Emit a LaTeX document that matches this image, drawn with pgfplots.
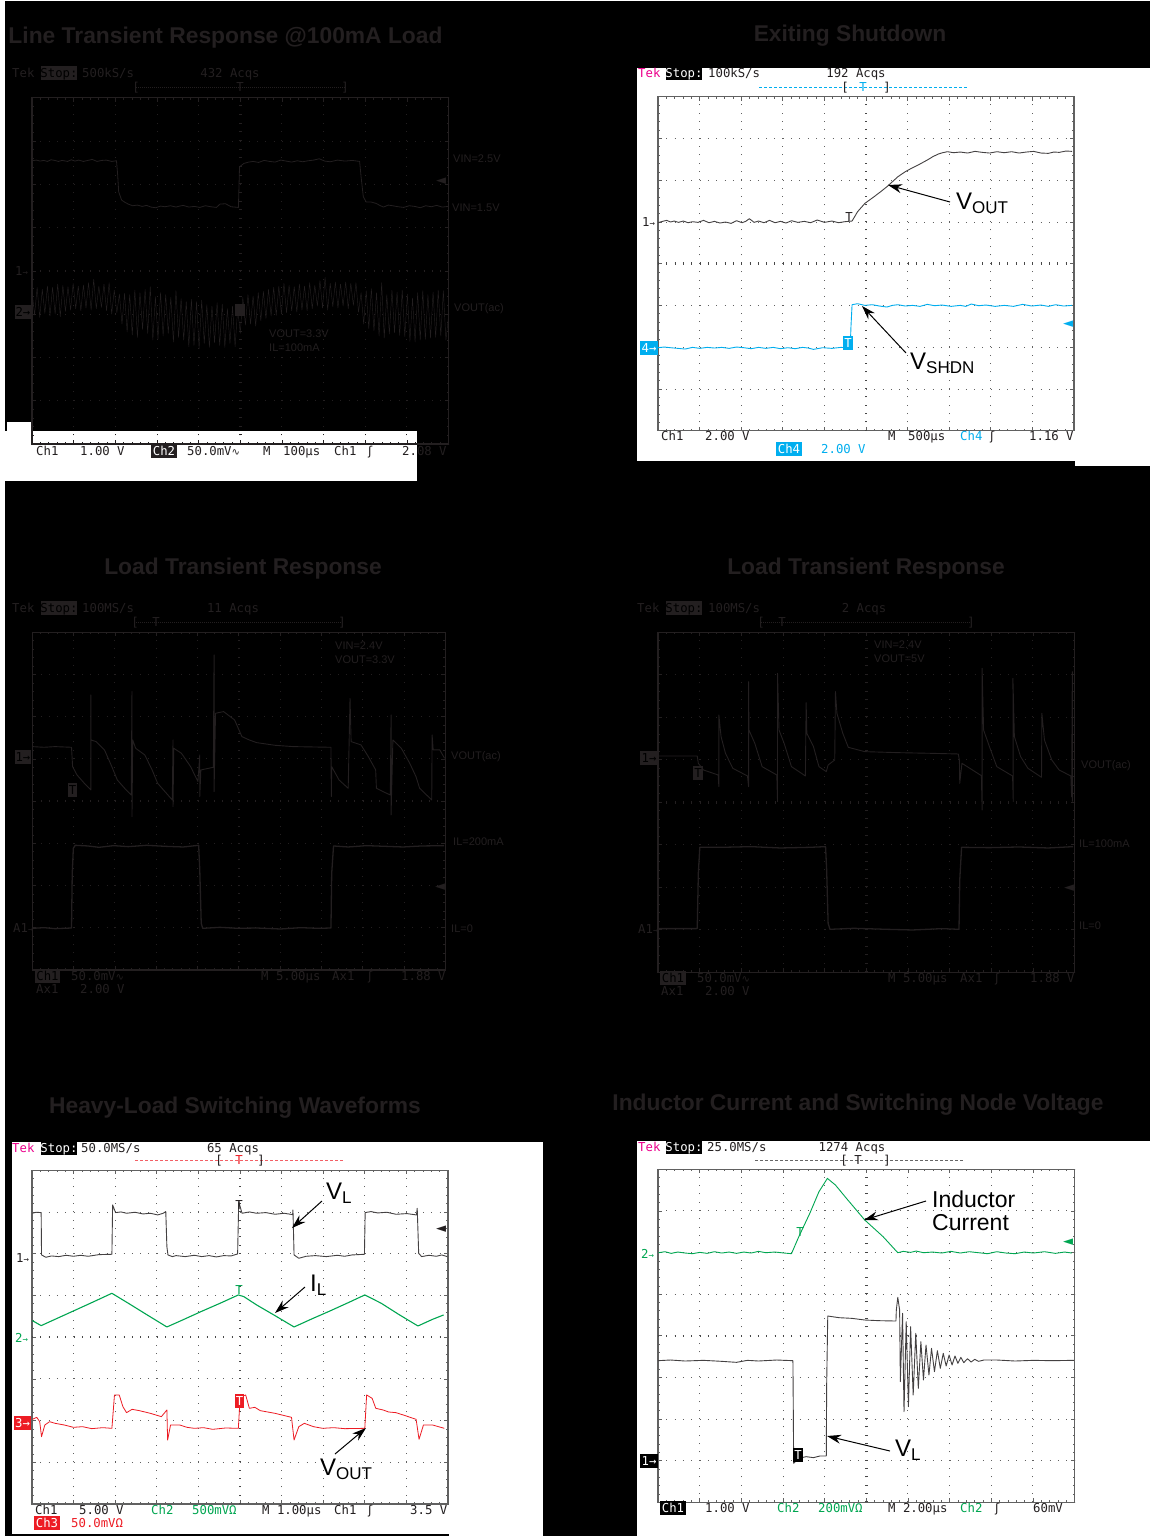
\documentclass[border=0pt]{standalone}
\usepackage{fontspec}
\usepackage{pgfplots}
\pgfplotsset{compat=1.18}
\usetikzlibrary{arrows.meta}
\setmainfont{Liberation Sans}
\newfontfamily\mono{DejaVu Sans Mono}
\newfontfamily\djv{DejaVu Sans}
\definecolor{ink}{HTML}{231F20}
\definecolor{cy}{HTML}{00AEEF}
\definecolor{gr}{HTML}{00A651}
\definecolor{rd}{HTML}{ED1C24}
\definecolor{mg}{HTML}{EC008C}
\newcommand{\monof}{\mono\fontsize{12.3}{14}\selectfont}
% scope text: x, y-centre, colour, text
\newcommand{\TX}[4]{\node[anchor=base west,inner sep=0pt,text=#3,font=\monof,yshift=-4.4pt] at (#1pt,-#2pt) {#4};}
\newcommand{\TC}[4]{\node[anchor=base,inner sep=0pt,text=#3,font=\monof,yshift=-4.4pt] at (#1pt,-#2pt) {#4};}
% hand-written labels in the dark panels
\newcommand{\LB}[3]{\node[anchor=base west,inner sep=0pt,text=ink,font=\fontsize{11}{13}\selectfont,yshift=-4pt] at (#1pt,-#2pt) {#3};}
% box: x0,x1,yc,fill,textcolour,text
\newcommand{\BX}[6]{\fill[#4] (#1pt,-#3pt+7pt) rectangle (#2pt,-#3pt-7pt);
 \node[inner sep=0pt,anchor=base,text=#5,font=\monof,yshift=-4.4pt] at ({(#1+#2)/2*1pt},-#3pt) {#6};}
\newcommand{\TT}[3]{\node[anchor=center,inner sep=0pt,text=ink,yshift=-3pt,font=\bfseries\fontsize{22.8}{27}\selectfont] at (#1pt,-#2pt) {#3};}
\newcommand{\MK}[3]{\node[inner sep=0pt,text=#3,font=\djv\fontsize{13}{13}\selectfont] at (#1pt,-#2pt) {◄};}
\newcommand{\SL}{{\djv ʃ}}
\newcommand{\SW}{{\djv\fontsize{10}{10}\selectfont ∿}}
\newcommand{\VS}[4]{\node[anchor=base west,inner sep=0pt,text=black] at (#1pt,-#2pt) {\fontsize{24}{24}\selectfont #3\raisebox{-4pt}{\fontsize{17}{17}\selectfont #4}};}
\newcommand{\AR}[4]{\draw[black,line width=1pt,-{Stealth[length=14pt,width=9pt]}] (#1pt,-#2pt) -- (#3pt,-#4pt);}
% centre lines of the graticule, with their fifth-of-a-division ticks
\newcommand{\CROSS}[3]{\addplot[#1,line width=2.6pt,dash pattern=on 0.9pt off #2pt] coordinates {(5,0) (5,8)};
 \addplot[#1,line width=2.6pt,dash pattern=on 0.9pt off #3pt] coordinates {(0,4) (10,4)};}
\pgfplotsset{
 scopepanel/.style n args={7}{
  at={(#1pt,-#2pt)},anchor=south west,scale only axis,width=#3pt,height=#4pt,
  xmin=0,xmax=10,ymin=0,ymax=8,xtick={0,...,10},ytick={0,...,8},
  minor x tick num=4,minor y tick num=4,tick align=inside,
  major tick length=4pt,minor tick length=2pt,
  xticklabels={},yticklabels={},
  axis line style={#5,line width=1.1pt},
  tick style={#5,line width=0.7pt},
  grid=major,
  x grid style={#5,line width=0.9pt,dash pattern=on 0.9pt off #6pt},
  y grid style={#5,line width=0.9pt,dash pattern=on 0.9pt off #7pt},
  no markers,
  every axis plot/.append style={line join=round,sharp plot},
 },
 /pgfplots/table/dTL/.style={x expr={(\thisrowno{0}-88)/113.4},y expr={(1332-\thisrowno{1})/129.9},row sep=\\},
 /pgfplots/table/dTR/.style={x expr={(\thisrowno{0}-226)/113.4},y expr={(1292-\thisrowno{1})/125.25},row sep=\\},
 /pgfplots/table/dML/.style={x expr={(\thisrowno{0}-88)/112.7},y expr={(1290-\thisrowno{1})/126.6},row sep=\\},
 /pgfplots/table/dMR/.style={x expr={(\thisrowno{0}-226)/113.6},y expr={(1297-\thisrowno{1})/127.5},row sep=\\},
 /pgfplots/table/dBL/.style={x expr={(\thisrowno{0}-87)/113.5},y expr={(1272-\thisrowno{1})/125.1},row sep=\\},
 /pgfplots/table/dBR/.style={x expr={(\thisrowno{0}-226)/113.6},y expr={(1267-\thisrowno{1})/124.9},row sep=\\},
}
\begin{document}
\begin{tikzpicture}
% page: black ground with the white patches of the original
\fill[black] (0pt,0pt) rectangle (1150pt,-1536pt);
\fill[white] (0pt,0pt) rectangle (1150pt,-1pt);
\fill[white] (0pt,0pt) rectangle (5pt,-1536pt);
\fill[white] (7pt,-422pt) rectangle (31pt,-432pt);
\fill[white] (0pt,-431pt) rectangle (417pt,-481pt);
\fill[white] (637pt,-68pt) rectangle (1150pt,-461pt);
\fill[white] (1075pt,-68pt) rectangle (1150pt,-466pt);
\fill[white] (12pt,-1142pt) rectangle (543pt,-1534pt);
\fill[white] (449pt,-1534pt) rectangle (543pt,-1536pt);
\fill[white] (637pt,-1141pt) rectangle (1150pt,-1536pt);

% ---------- TL ----------
\begin{axis}[scopepanel={32}{444}{416.5}{346.3}{ink}{7.76}{7.43}]
\CROSS{ink}{7.76}{7.43}
\addplot[ink,line width=0.8pt] table[dTL]{88 482\\100 480\\110 483\\120 481\\130 484\\140 479\\150 481\\160 484\\170 481\\185 484\\195 479\\205 483\\215 480\\228 484\\240 481\\252 478\\265 484\\278 481\\290 480\\305 484\\318 482\\321 520\\324 575\\332 600\\340 606\\350 612\\362 617\\375 615\\388 619\\400 616\\412 621\\425 623\\438 618\\450 620\\465 617\\480 621\\490 618\\500 616\\515 621\\530 619\\545 622\\560 617\\575 620\\590 622\\600 612\\615 611\\630 620\\650 622\\653 500\\665 490\\678 486\\690 484\\705 487\\720 481\\735 484\\750 486\\765 480\\780 483\\795 486\\810 482\\825 485\\840 482\\855 480\\870 476\\885 483\\900 485\\920 480\\940 483\\960 481\\980 484\\984 530\\990 590\\998 606\\1012 606\\1025 610\\1035 616\\1045 621\\1058 615\\1070 617\\1085 620\\1100 622\\1115 617\\1130 619\\1145 623\\1160 617\\1175 620\\1190 616\\1205 621\\1222 619\\};
\addplot[ink,line width=0.45pt] table[dTL]{88 870\\95 945\\102 862\\109 952\\116 868\\123 940\\130 858\\137 948\\144 862\\151 942\\158 852\\165 950\\172 856\\179 934\\186 860\\193 930\\200 850\\207 926\\214 858\\221 932\\228 855\\235 924\\242 848\\249 930\\256 838\\263 926\\270 858\\277 922\\284 852\\291 932\\298 848\\305 942\\312 870\\319 938\\326 882\\333 972\\340 880\\347 996\\354 884\\361 1005\\368 870\\375 1012\\382 878\\389 988\\396 868\\403 1000\\410 860\\417 1020\\424 890\\431 1018\\438 878\\445 1008\\452 884\\459 1000\\466 892\\473 1026\\480 872\\487 1012\\494 896\\501 1020\\508 905\\515 1040\\522 898\\529 1036\\536 905\\543 1046\\550 900\\557 1030\\564 914\\571 1042\\578 918\\585 1028\\592 908\\599 1036\\606 912\\613 1042\\620 926\\627 1030\\634 918\\641 1040\\648 925\\655 1000\\662 892\\669 975\\676 884\\683 972\\690 888\\697 978\\704 878\\711 962\\718 874\\725 955\\732 868\\739 948\\746 862\\753 946\\760 858\\767 942\\774 850\\781 938\\788 856\\795 932\\802 860\\809 936\\816 852\\823 930\\830 858\\837 932\\844 848\\851 926\\858 856\\865 918\\872 842\\879 924\\886 832\\893 930\\900 850\\907 920\\914 846\\921 924\\928 852\\935 918\\942 846\\949 926\\956 850\\963 916\\970 848\\977 936\\984 878\\991 972\\998 872\\1005 986\\1012 866\\1019 992\\1026 878\\1033 1008\\1040 848\\1047 1014\\1054 884\\1061 1002\\1068 870\\1075 998\\1082 876\\1089 1006\\1096 870\\1103 1010\\1110 882\\1117 1024\\1124 894\\1131 1026\\1138 878\\1145 1020\\1152 872\\1159 1018\\1166 884\\1173 1014\\1180 876\\1187 1012\\1194 870\\1201 1008\\1208 872\\1215 1020\\1222 950\\};
\end{axis}
\TT{225.5}{35}{Line Transient Response @100mA Load}
\TX{12}{73}{ink}{Tek}\BX{41}{77}{73}{ink}{black}{Stop:}\TX{82}{73}{ink}{500kS/s}\TC{230}{73}{ink}{432 Acqs}
\draw[ink,line width=0.7pt,dash pattern=on 1pt off 1pt] (136pt,-87pt) -- (345pt,-87pt);
\TC{136}{87}{ink}{[}\TC{345}{87}{ink}{]}\TC{240}{87}{ink}{T}
\LB{453}{158}{VIN=2.5V}\LB{452}{207}{VIN=1.5V}\LB{454}{307}{VOUT(ac)}\LB{269}{333}{VOUT=3.3V}\LB{269}{347}{IL=100mA}
\MK{441}{181}{ink}
\TX{15}{271}{ink}{1\fontsize{9}{9}\selectfont→}\BX{15}{31}{312}{ink}{black}{2→}
\fill[ink] (235pt,-304pt) rectangle (245pt,-316pt);
\TX{36}{451}{ink}{Ch1}\TX{80}{451}{ink}{1.00 V}\BX{151}{177}{451}{ink}{white}{Ch2}
\TX{187}{451}{ink}{50.0mV\SW}\TX{263}{451}{ink}{M}\TX{283}{451}{ink}{100µs}\TX{334}{451}{ink}{Ch1}\TX{368}{451}{ink}{\SL}\TX{402}{451}{ink}{2.08 V}

% ---------- TR ----------
\begin{axis}[scopepanel={658}{430.7}{416}{334}{black!62}{7.45}{7.42}]
\CROSS{black!72}{7.45}{7.42}
\addplot[ink!85,line width=0.9pt] table[dTR]{226 668\\238 664\\250 661\\260 666\\270 663\\282 667\\295 663\\308 668\\320 665\\335 667\\350 661\\365 668\\380 664\\395 669\\410 666\\425 670\\440 662\\455 668\\465 664\\475 656\\488 667\\500 663\\515 668\\530 661\\545 668\\560 664\\575 669\\590 662\\607 667\\625 664\\642 668\\660 660\\680 667\\700 663\\718 668\\735 665\\755 663\\770 635\\790 610\\815 590\\833 575\\850 560\\865 545\\880 530\\900 515\\920 503\\940 492\\960 480\\975 470\\990 462\\1002 458\\1015 455\\1032 458\\1050 456\\1070 459\\1090 454\\1110 457\\1130 459\\1150 455\\1170 458\\1190 455\\1210 459\\1230 456\\1250 454\\1270 459\\1290 460\\1305 456\\1320 457\\1338 453\\1355 454\\};
\addplot[cy,line width=0.9pt] table[dTR]{226 1043\\243 1041\\260 1043\\280 1045\\300 1047\\320 1042\\340 1045\\360 1042\\380 1044\\400 1042\\420 1045\\440 1041\\460 1043\\480 1046\\500 1042\\520 1045\\540 1042\\560 1046\\580 1043\\600 1046\\620 1042\\635 1044\\650 1048\\675 1043\\700 1045\\725 1042\\750 1044\\752 980\\755 914\\770 911\\790 916\\810 914\\830 918\\850 921\\865 916\\880 914\\900 918\\920 916\\940 919\\960 913\\980 917\\1000 915\\1025 919\\1050 916\\1065 919\\1080 912\\1100 917\\1120 915\\1145 919\\1170 916\\1195 919\\1220 913\\1245 918\\1270 915\\1290 919\\1310 914\\1332 918\\1355 916\\};
\end{axis}
\TT{850}{33}{Exiting Shutdown}
\TX{638}{73}{mg}{Tek}\BX{666}{702}{73}{black}{white}{Stop:}\TX{708}{73}{ink}{100kS/s}\TC{856}{73}{ink}{192 Acqs}
\draw[cy,line width=0.9pt,dash pattern=on 3pt off 2pt] (759pt,-87pt) -- (968pt,-87pt);
\TC{845}{87}{ink}{[}\TC{887}{87}{ink}{]}\TC{863}{87}{cy}{T}
\TX{642}{222}{ink}{1\fontsize{9}{9}\selectfont→}\BX{640}{658}{348}{cy}{white}{4→}
\MK{1068}{324}{cy}\TC{849}{217}{ink}{T}\BX{843}{853}{343}{cy}{white}{T}
\TX{661}{436}{ink}{Ch1}\TX{705}{436}{ink}{2.00 V}\TX{888}{436}{ink}{M}\TX{908}{436}{ink}{500µs}\TX{960}{436}{cy}{Ch4}\TX{990}{436}{ink}{\SL}\TX{1029}{436}{ink}{1.16 V}
\BX{776}{802}{449}{cy}{white}{Ch4}\TX{821}{449}{cy}{2.00 V}
\VS{956}{209}{V}{OUT}\AR{950}{202}{888}{185}
\VS{910}{369}{V}{SHDN}\AR{906}{353}{862}{306}

% ---------- ML ----------
\begin{axis}[scopepanel={32.3}{970}{413}{337.7}{ink}{7.54}{7.36}]
\CROSS{ink}{7.54}{7.36}
\addplot[ink,line width=0.9pt] table[dML]{88 620\\120 622\\150 620\\195 622\\198 680\\210 705\\230 730\\248 750\\248 465\\248 600\\262 605\\285 630\\305 680\\320 720\\340 745\\358 765\\360 455\\360 830\\362 600\\370 625\\395 645\\415 690\\430 730\\450 755\\470 780\\472 600\\472 800\\474 625\\495 640\\520 680\\540 725\\545 645\\545 770\\548 690\\582 682\\584 345\\584 755\\588 520\\610 515\\640 540\\660 590\\680 600\\700 608\\750 616\\800 620\\903 622\\904 770\\905 680\\925 720\\950 745\\955 475\\958 605\\985 615\\1005 650\\1025 690\\1027 745\\1045 755\\1065 765\\1067 525\\1067 825\\1072 600\\1095 625\\1118 670\\1135 710\\1145 745\\1178 780\\1179 585\\1182 630\\1200 630\\1213 655\\};
\addplot[ink,line width=1.3pt] table[dML]{88 1165\\120 1163\\150 1166\\195 1164\\197 1000\\200 925\\205 916\\240 918\\270 922\\310 917\\350 920\\400 916\\450 919\\500 921\\542 916\\545 990\\549 1150\\553 1165\\600 1162\\650 1165\\700 1164\\765 1167\\820 1163\\870 1165\\903 1164\\905 1000\\910 918\\950 921\\1000 917\\1050 919\\1100 921\\1150 918\\1212 917\\};
\end{axis}
\TT{243}{566}{Load Transient Response}
\TX{12}{608}{ink}{Tek}\BX{41}{77}{608}{ink}{black}{Stop:}\TX{82}{608}{ink}{100MS/s}\TC{233}{608}{ink}{11 Acqs}
\draw[ink,line width=0.7pt,dash pattern=on 1pt off 1pt] (136pt,-622pt) -- (342pt,-622pt);
\TC{135}{622}{ink}{[}\TC{342}{622}{ink}{]}\TC{156}{622}{ink}{T}
\LB{335}{645}{VIN=2.4V}\LB{335}{659}{VOUT=3.3V}\LB{451}{755}{VOUT(ac)}\LB{453}{841}{IL=200mA}\LB{451}{928}{IL=0}
\BX{15}{31}{757}{ink}{black}{1→}\TX{13}{928}{ink}{A1\fontsize{9}{9}\selectfont→}\BX{68}{77}{790}{ink}{black}{T}\MK{440}{887}{ink}
\BX{35}{60}{976}{ink}{black}{Ch1}\TX{71}{976}{ink}{50.0mV\SW}\TX{261}{976}{ink}{M 5.00µs}\TX{332}{976}{ink}{Ax1}\TX{368}{976}{ink}{\SL}\TX{401}{976}{ink}{1.88 V}
\TX{36}{989}{ink}{Ax1}\TX{80}{989}{ink}{2.00 V}

% ---------- MR ----------
\begin{axis}[scopepanel={658}{972.3}{416.5}{340}{ink}{7.6}{7.43}]
\CROSS{ink}{7.6}{7.43}
\addplot[ink,line width=0.9pt] table[dMR]{226 648\\280 648\\333 648\\336 670\\350 690\\390 705\\392 740\\392 525\\398 590\\410 640\\430 685\\470 708\\473 740\\473 425\\474 570\\490 610\\510 680\\550 705\\552 785\\552 400\\556 570\\570 610\\590 680\\628 708\\630 488\\632 580\\650 620\\665 680\\685 695\\690 675\\708 660\\710 455\\714 520\\730 580\\745 622\\790 635\\880 638\\970 640\\1045 642\\1048 660\\1049 730\\1055 670\\1108 707\\1110 810\\1110 385\\1114 570\\1130 620\\1150 680\\1193 708\\1195 785\\1194 415\\1198 590\\1215 650\\1235 685\\1272 712\\1273 520\\1280 600\\1300 660\\1320 690\\1352 708\\1354 770\\1356 395\\1356 785\\};
\addplot[ink,line width=1.3pt] table[dMR]{226 1166\\330 1166\\333 1165\\336 1000\\340 922\\400 922\\480 920\\560 924\\640 922\\683 920\\686 990\\690 1150\\695 1168\\760 1165\\850 1168\\920 1170\\1000 1166\\1047 1168\\1049 1020\\1054 922\\1130 923\\1210 921\\1290 924\\1358 920\\};
\end{axis}
\TT{866}{566}{Load Transient Response}
\TX{637}{608}{ink}{Tek}\BX{666}{702}{608}{ink}{black}{Stop:}\TX{708}{608}{ink}{100MS/s}\TC{864}{608}{ink}{2 Acqs}
\draw[ink,line width=0.7pt,dash pattern=on 1pt off 1pt] (761pt,-622pt) -- (971pt,-622pt);
\TC{761}{622}{ink}{[}\TC{971}{622}{ink}{]}\TC{782}{622}{ink}{T}
\LB{874}{644}{VIN=2.4V}\LB{874}{658}{VOUT=5V}\LB{1081}{764}{VOUT(ac)}\LB{1079}{843}{IL=100mA}\LB{1079}{925}{IL=0}
\BX{640}{658}{758}{ink}{black}{1→}\TX{638}{929}{ink}{A1\fontsize{9}{9}\selectfont→}\BX{693}{703}{773}{ink}{black}{T}\MK{1069}{888}{ink}
\BX{660}{686}{978}{ink}{black}{Ch1}\TX{697}{978}{ink}{50.0mV\SW}\TX{888}{978}{ink}{M 5.00µs}\TX{960}{978}{ink}{Ax1}\TX{995}{978}{ink}{\SL}\TX{1030}{978}{ink}{1.88 V}
\TX{661}{991}{ink}{Ax1}\TX{705}{991}{ink}{2.00 V}

% ---------- BL ----------
\begin{axis}[scopepanel={32}{1504}{416}{333.7}{black!62}{7.44}{7.42}]
\CROSS{black!72}{7.44}{7.42}
\addplot[ink!85,line width=0.9pt] table[dBL]{88 400\\98 397\\112 398\\113 525\\125 532\\140 528\\160 530\\180 526\\200 529\\220 526\\240 529\\270 524\\305 523\\307 375\\315 398\\330 396\\345 400\\368 397\\390 402\\410 400\\430 405\\445 400\\452 395\\455 500\\458 525\\470 530\\480 527\\505 530\\530 526\\550 530\\570 527\\590 531\\610 527\\630 528\\648 522\\651 365\\660 400\\680 396\\700 400\\725 398\\750 403\\775 400\\798 404\\799 390\\802 525\\815 535\\835 529\\860 527\\890 530\\920 526\\940 529\\960 525\\994 523\\996 398\\1012 395\\1030 399\\1055 397\\1080 403\\1110 401\\1136 405\\1138 385\\1142 520\\1150 530\\1170 526\\1190 529\\1205 525\\1220 530\\};
\addplot[gr,line width=1.1pt] table[dBL]{88 722\\112 737\\150 718\\200 693\\250 668\\305 640\\350 670\\400 704\\455 741\\500 719\\550 694\\600 670\\650 645\\665 650\\700 675\\750 707\\802 741\\850 717\\900 693\\950 668\\995 645\\1040 670\\1090 705\\1140 738\\1180 718\\1210 705\\};
\addplot[rd,line width=0.8pt] table[dBL]{88 1018\\100 1012\\108 1025\\113 1070\\122 1035\\135 1025\\150 1030\\175 1035\\200 1042\\225 1040\\250 1046\\280 1043\\305 1045\\312 945\\325 945\\335 980\\345 998\\360 988\\380 992\\410 1000\\440 1010\\455 990\\457 1080\\465 1035\\490 1035\\510 1042\\530 1045\\555 1043\\580 1048\\615 1044\\650 1045\\655 950\\670 945\\680 985\\695 982\\710 992\\750 1000\\795 1012\\802 1080\\815 1040\\830 1030\\855 1040\\880 1045\\910 1043\\940 1046\\995 1045\\1000 945\\1015 955\\1025 985\\1045 990\\1060 996\\1080 998\\1100 1005\\1135 1018\\1143 1078\\1155 1035\\1180 1035\\1212 1045\\};
\end{axis}
\TT{235}{1105}{Heavy-Load Switching Waveforms}
\TX{12}{1148}{mg}{Tek}\BX{41}{77}{1148}{black}{white}{Stop:}\TX{81}{1148}{ink}{50.0MS/s}\TC{233}{1148}{ink}{65 Acqs}
\draw[rd!70,line width=0.8pt,dash pattern=on 3pt off 2pt] (135pt,-1160pt) -- (344pt,-1160pt);
\TC{219}{1160}{ink}{[}\TC{261}{1160}{ink}{]}\TC{239}{1160}{rd}{T}
\TX{16}{1258}{ink}{1\fontsize{9}{9}\selectfont→}\TX{15}{1338}{gr}{2\fontsize{9}{9}\selectfont→}\BX{14}{31}{1423}{rd}{white}{3→}
\MK{441}{1229}{ink}\TC{239}{1205}{ink}{T}\TC{239}{1290}{gr}{T}\BX{235}{244}{1401}{rd}{white}{T}
\TX{35}{1510}{ink}{Ch1}\TX{79}{1510}{ink}{5.00 V}\TX{151}{1510}{gr}{Ch2}\TX{192}{1510}{gr}{500mVΩ}\TX{262}{1510}{ink}{M 1.00µs}\TX{334}{1510}{ink}{Ch1}\TX{368}{1510}{ink}{\SL}\TX{410}{1510}{ink}{3.5 V}
\BX{34}{60}{1523}{rd}{white}{Ch3}\TX{71}{1523}{rd}{50.0mVΩ}
\VS{326}{1199}{V}{L}\AR{322}{1201}{292}{1228}
\VS{310}{1291}{I}{L}\AR{305}{1287}{275}{1313}
\VS{320}{1475}{V}{OUT}\AR{335}{1454}{366}{1428}

% ---------- BR ----------
\begin{axis}[scopepanel={658}{1502.3}{416.5}{333}{black!62}{7.43}{7.43}]
\CROSS{black!72}{7.43}{7.43}
\addplot[gr,line width=0.9pt] table[dBR]{228 518\\245 515\\262 520\\280 516\\300 519\\320 521\\340 517\\360 520\\380 515\\400 519\\420 516\\440 520\\460 516\\480 519\\500 514\\520 518\\545 516\\570 519\\590 521\\610 470\\640 400\\665 335\\688 295\\710 315\\740 355\\790 420\\840 470\\880 518\\895 514\\915 517\\930 513\\950 518\\975 516\\1000 519\\1025 514\\1050 519\\1075 515\\1100 518\\1125 521\\1150 515\\1175 519\\1200 521\\1225 516\\1250 519\\1280 515\\1310 520\\1335 516\\1355 519\\};
\addplot[ink!85,line width=0.9pt] table[dBR]{226 842\\260 840\\300 843\\350 841\\400 844\\440 847\\470 841\\500 843\\550 840\\594 842\\595 990\\596 1150\\610 1135\\630 1130\\650 1133\\668 1128\\685 1128\\686 915\\689 708\\720 713\\755 715\\790 720\\830 722\\875 723\\876 690\\880 652\\885 690\\887 905\\893 700\\897 995\\903 725\\909 980\\915 740\\922 945\\929 760\\936 925\\943 785\\950 900\\957 795\\965 885\\972 805\\980 875\\988 812\\996 865\\1004 820\\1012 858\\1020 825\\1028 855\\1036 828\\1044 850\\1052 832\\1060 848\\1070 836\\1080 846\\1090 838\\1100 844\\1115 840\\1150 840\\1200 843\\1250 841\\1300 842\\1360 841\\};
\end{axis}
\TT{858}{1102}{Inductor Current and Switching Node Voltage}
\TX{638}{1147}{mg}{Tek}\BX{666}{702}{1147}{black}{white}{Stop:}\TX{707}{1147}{ink}{25.0MS/s}\TC{852}{1147}{ink}{1274 Acqs}
\draw[black!60,line width=0.7pt,dash pattern=on 3pt off 2pt] (755pt,-1160pt) -- (963pt,-1160pt);
\TC{844}{1160}{ink}{[}\TC{887}{1160}{ink}{]}\TC{858}{1160}{ink}{T}
\TX{641}{1254}{gr}{2\fontsize{9}{9}\selectfont→}\BX{640}{658}{1461}{black}{white}{1→}
\MK{1068}{1242}{gr}\TC{800}{1232}{gr}{T}\BX{793}{803}{1455}{black}{white}{T}
\BX{660}{686}{1508}{black}{white}{Ch1}\TX{705}{1508}{ink}{1.00 V}\TX{777}{1508}{gr}{Ch2}\TX{818}{1508}{gr}{200mVΩ}\TX{888}{1508}{ink}{M 2.00µs}\TX{960}{1508}{gr}{Ch2}\TX{995}{1508}{ink}{\SL}\TX{1033}{1508}{ink}{60mV}
\node[anchor=base west,inner sep=0pt,text=black,font=\fontsize{23}{23}\selectfont] at (932pt,-1207pt) {Inductor};
\node[anchor=base west,inner sep=0pt,text=black,font=\fontsize{23}{23}\selectfont] at (932pt,-1230pt) {Current};
\AR{926}{1201}{864}{1220}
\VS{895}{1456}{V}{L}\AR{890}{1451}{827}{1436}
\end{tikzpicture}
\end{document}
